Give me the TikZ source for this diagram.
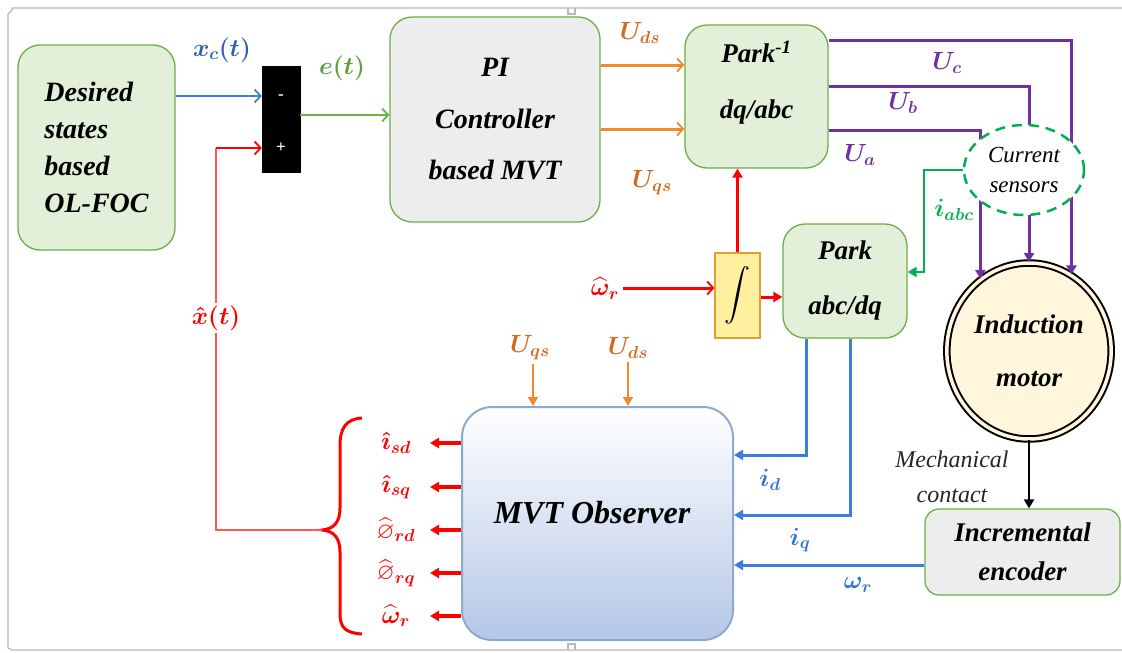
\documentclass[tikz,border=0pt]{standalone}
\usepackage{amsmath,amssymb}
\usepackage{fontspec}
\setmainfont{Liberation Serif}
\usetikzlibrary{arrows.meta,shapes.geometric,calc}
\definecolor{gfill}{HTML}{E2F0D9}
\definecolor{gborder}{HTML}{70AD47}
\definecolor{grayfill}{HTML}{EDEDED}
\definecolor{orln}{HTML}{F08A2E}
\definecolor{ortx}{HTML}{D2691E}
\definecolor{purp}{HTML}{7030A0}
\definecolor{blln}{HTML}{3C7DDB}
\definecolor{bltx}{HTML}{2E75D6}
\definecolor{dkbl}{HTML}{2E5FA8}
\definecolor{brgreen}{HTML}{00B050}
\definecolor{etx}{HTML}{5B9E3A}
\definecolor{yfill}{HTML}{FFF0A0}
\definecolor{yborder}{HTML}{E0A030}
\definecolor{cream}{HTML}{FFF6DC}
\definecolor{mvtb}{HTML}{B4C7E7}
\definecolor{mvtd}{HTML}{8EA9CF}
\begin{document}
\begin{tikzpicture}[x=1pt,y=-1pt,
  gbox/.style={draw=gborder, fill=gfill, line width=1.3pt, rounded corners=22pt},
  graybox/.style={draw=gborder, fill=grayfill, line width=1.3pt, rounded corners=22pt},
  btxt/.style={font=\fontsize{28}{37}\selectfont\bfseries\itshape},
  lbl/.style={font=\fontsize{25}{28}\selectfont\boldmath},
  outlbl/.style={text=red, inner sep=0.5pt, font=\fontsize{23}{26}\selectfont\boldmath},
  openarr/.style={-{Straight Barb[length=6pt,width=13pt,line width=1.8pt]}},
  solarr/.style={-{Triangle[length=9pt,width=10pt]}},
  frame/.style={draw=gray!55, line width=1.3pt}
]
\useasboundingbox (0,0) rectangle (1122,653);
% frame
\draw[frame] (8,14) -- (8,648) -- (12,650) -- (1122,650);
\draw[frame] (8,14) -- (12,10) -- (12,8) -- (1122,8);
\draw[frame] (568,8) -- (568,14) -- (575,14) -- (575,8);
\draw[frame] (568,650) -- (568,644) -- (575,644) -- (575,650);

% blocks
\node[gbox, minimum width=157, minimum height=205, align=left, btxt] (des) at (96.5,147.5) {Desired\\states\\based\\OL-FOC};
\node[draw=black, fill=black, minimum width=38, minimum height=106, inner sep=0] (sum) at (281,119) {};
\node[text=white, font=\fontsize{17}{17}\selectfont\bfseries] (minus) at (281,97) {-};
\node[text=white, font=\fontsize{17}{17}\selectfont\bfseries] (plus) at (281,148) {+};
\node[graybox, minimum width=210, minimum height=205, align=center, font=\fontsize{28}{51.5}\selectfont\bfseries\itshape] (pi) at (495,119.5) {PI\\Controller\\based MVT};
\node[gbox, minimum width=143, minimum height=143] (pinv) at (756.5,96.5) {};
\node[align=center, font=\fontsize{27}{56}\selectfont\bfseries\itshape] (pinvtxt) at (756.5,83) {Park\textsuperscript{-1}\\dq/abc};
\node[gbox, minimum width=124, minimum height=114, align=center, font=\fontsize{27}{55}\selectfont\bfseries\itshape] (park) at (845,281) {Park\\abc/dq};
\node[draw=yborder, fill=yfill, line width=1.2pt, minimum width=45, minimum height=85, inner sep=0] (integ) at (737.5,295.5) {\fontsize{26}{30}\selectfont$\displaystyle\int$};
\node[ellipse, draw=black, line width=2pt, double=cream, double distance=3.5pt, fill=cream, minimum width=160, minimum height=176, align=center, font=\fontsize{27}{53}\selectfont\bfseries\itshape] (motor) at (1029,351) {Induction\\motor};
\node[graybox, rounded corners=14pt, minimum width=195, minimum height=86, align=center, font=\fontsize{27}{39}\selectfont\bfseries\itshape] (enc) at (1022.5,552) {Incremental\\encoder};
\node[draw=mvtd, line width=2pt, rounded corners=30pt, top color=white, bottom color=mvtb, minimum width=271, minimum height=233] (mvt) at (597.5,523.5) {};
\node[font=\fontsize{32}{34}\selectfont\bfseries\itshape] (mvttxt) at (592,513) {MVT Observer};

% top signal path
\draw[blln, line width=2.2pt, openarr] (des.east |- 0,96) -- (sum.west |- 0,96);
\node[lbl, text=dkbl] (xc) at (222,50) {$x_c(t)$};
\draw[gborder!90!green, line width=2.2pt, openarr] (sum.east |- 0,115) -- (pi.west |- 0,115);
\node[lbl, text=etx] (et) at (342,68) {$e(t)$};
\draw[orln, line width=3pt, openarr] (pi.east |- 0,65) -- (pinv.west |- 0,65);
\draw[orln, line width=3pt, openarr] (pi.east |- 0,129) -- (pinv.west |- 0,129);
\node[lbl, text=ortx] (uds) at (640,33) {$U_{ds}$};
\node[lbl, text=ortx] (uqs) at (652,183) {$U_{qs}$};

% purple phase lines (drawn before the sensor ellipse so it covers them)
\draw[purp, line width=3pt, solarr] (pinv.east |- 0,40) -| (motor.61);
\draw[purp, line width=3pt, solarr] (pinv.east |- 0,86) -| (motor.north);
\draw[purp, line width=3pt, solarr] (pinv.east |- 0,130) -| (motor.124);
\node[lbl, text=purp] (uc) at (947,63) {$U_c$};
\node[lbl, text=purp] (ub) at (903,103) {$U_b$};
\node[lbl, text=purp] (ua) at (860,155) {$U_a$};

\node[ellipse, draw=brgreen, dashed, dash pattern=on 10pt off 7pt, line width=2.5pt, fill=white, inner sep=0pt, minimum width=120, minimum height=90, align=center, font=\fontsize{23}{30}\selectfont\itshape] (sens) at (1024,170) {Current\\sensors};
\draw[brgreen, line width=2.3pt, solarr] (sens.west) -- (924,170) |- (park.east |- 0,272);
\node[lbl, text=brgreen] (iabc) at (954,210) {$i_{abc}$};

% integrator
\node[lbl, text=red] (wh) at (605,288) {$\widehat{\omega}_r$};
\draw[red, line width=3pt, openarr] (wh.east) -- (integ.west |- wh.east);
\draw[red, line width=3pt, solarr] (integ.east |- 0,297) -- (park.west |- 0,297);
\draw[red, line width=3pt, solarr] (integ.north) -- (integ.north |- pinv.south);

% currents to observer
\draw[blln, line width=3pt, solarr] ([xshift=-39]park.south) |- (mvt.east |- 0,455);
\draw[blln, line width=3pt, solarr] ([xshift=5]park.south) |- (mvt.east |- 0,515);
\draw[blln, line width=3pt, solarr] (enc.west |- 0,565) -- (mvt.east |- 0,565);
\node[lbl, text=bltx] (id) at (770,480) {$i_d$};
\node[lbl, text=bltx] (iq) at (800,540) {$i_q$};
\node[lbl, text=bltx] (wr) at (858,585) {$\omega_r$};

% mechanical contact
\draw[black, line width=2.3pt, solarr] (motor.south) -- (enc.north -| motor.south);
\node[align=center, font=\fontsize{24}{35}\selectfont\itshape, text=black!85] (mech) at (952,477) {Mechanical\\contact};

% observer inputs
\node[lbl, text=ortx] (uq2) at (530,348) {$U_{qs}$};
\node[lbl, text=ortx] (ud2) at (628,348) {$U_{ds}$};
\draw[orln, line width=2pt, solarr] (uq2.south -| 533,0) -- (mvt.north -| 533,0);
\draw[orln, line width=2pt, solarr] (ud2.south) -- (ud2.south |- mvt.north);

% observer outputs
\coordinate (a1) at (430,443);
\coordinate (a2) at (430,487);
\coordinate (a3) at (430,530);
\coordinate (a4) at (430,573);
\coordinate (a5) at (430,616);
\foreach \a in {a1,a2,a3,a4,a5}{
  \draw[red, line width=3.5pt, solarr] (mvt.west |- \a) -- (\a);
}
\node[outlbl] (o1) at (396,443) {$\hat{\imath}_{sd}$};
\node[outlbl] (o2) at (396,487) {$\hat{\imath}_{sq}$};
\node[outlbl] (o3) at (396,530) {$\widehat{\varnothing}_{rd}$};
\node[outlbl] (o4) at (396,573) {$\widehat{\varnothing}_{rq}$};
\node[outlbl] (o5) at (396,616) {$\widehat{\omega}_r$};

% brace
\draw[red, line width=3pt] (362,418) .. controls (346,419) and (340,428) .. (340,446) -- (340,508) .. controls (340,522) and (334,529) .. (322,530) .. controls (334,531) and (340,538) .. (340,552) -- (340,614) .. controls (340,628) and (346,633) .. (362,634);
\coordinate (btip) at (322,530);

% feedback
\draw[red!65, line width=2.3pt] (btip) -- (216,530) -- (216,148);
\draw[red, line width=2.3pt, openarr] (216,148) -- (sum.west |- 0,148);
\node[lbl, text=red, fill=white, inner sep=3pt] (xh) at (216,318) {$\hat{x}(t)$};
\end{tikzpicture}
\end{document}
